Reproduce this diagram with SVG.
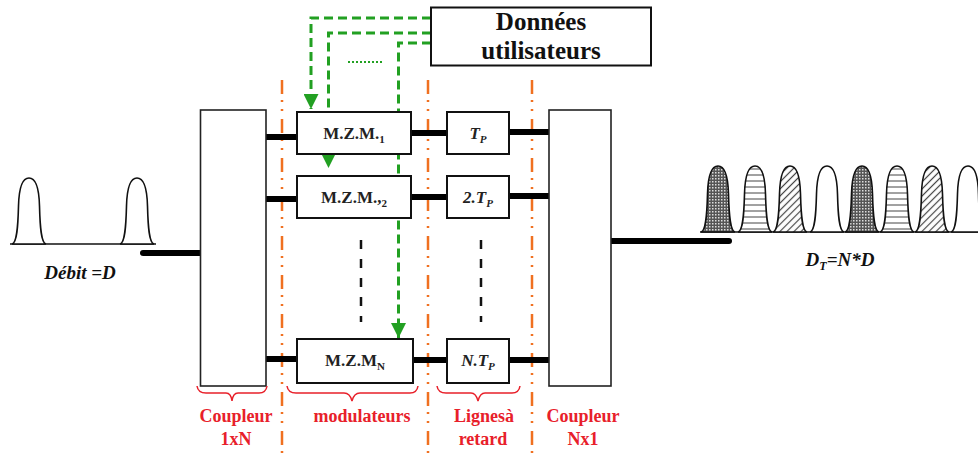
<svg xmlns="http://www.w3.org/2000/svg" width="978" height="454" viewBox="0 0 978 454">
<style>
.box{fill:#fff;stroke:#111;stroke-width:2}
.cpl{fill:#fff;stroke:#222;stroke-width:1.6}
.thick{stroke:#000;stroke-width:6;stroke-linecap:round;fill:none}
.orange{stroke:#f07020;stroke-width:2.5;stroke-dasharray:14 6 2 7 2 8;fill:none}
.green{stroke:#22a022;stroke-width:3;stroke-dasharray:9 5;fill:none}
.blk{stroke:#111;stroke-width:2.5;stroke-dasharray:9 10;fill:none}
.brace{stroke:#e8202a;stroke-width:1.5;fill:none}
.lbl{font-family:"Liberation Serif","Times New Roman",serif;font-weight:bold;font-size:17px;fill:#222;text-anchor:middle}
.it{font-style:italic}
.red{font-family:"Liberation Serif","Times New Roman",serif;font-weight:bold;font-size:18px;fill:#e8202a;text-anchor:middle}
.pulse{stroke:#111;stroke-width:1.6}
.big{font-family:"Liberation Serif","Times New Roman",serif;font-weight:bold;font-size:25px;fill:#111;text-anchor:middle}
</style>
<defs>
<marker id="ga" viewBox="0 0 10 10" refX="10" refY="5" markerWidth="5" markerHeight="5" orient="auto" markerUnits="strokeWidth">
<path d="M0,0 L10,5 L0,10 z" fill="#22a022"/>
</marker>
<pattern id="pDark" width="3" height="3" patternUnits="userSpaceOnUse">
<rect width="3" height="3" fill="#555"/>
<rect width="1.5" height="1.5" fill="#ddd"/>
</pattern>
<pattern id="pHor" width="6" height="6" patternUnits="userSpaceOnUse">
<rect width="6" height="6" fill="#fff"/>
<line x1="0" y1="3" x2="6" y2="3" stroke="#444" stroke-width="1"/>
</pattern>
<pattern id="pDiag" width="5" height="5" patternUnits="userSpaceOnUse" patternTransform="rotate(45)">
<rect width="5" height="5" fill="#fff"/>
<line x1="2.5" y1="0" x2="2.5" y2="5" stroke="#444" stroke-width="1.2"/>
</pattern>
<path id="pulse" d="M-17,0 C-12,-1 -11,-18 -10.5,-38 C-10,-58 -6,-66 0,-66 C6,-66 10,-58 10.5,-38 C11,-18 12,-1 17,0 Z"/>
</defs>
<rect width="978" height="454" fill="#fff"/>

<!-- separators -->
<g id="separators">
<line class="orange" x1="282" y1="80" x2="282" y2="454"/>
<line class="orange" x1="428" y1="80" x2="428" y2="454"/>
<line class="orange" x1="532" y1="80" x2="532" y2="454"/>
<line class="blk" x1="361" y1="240" x2="361" y2="322"/>
<line class="blk" x1="481" y1="240" x2="481" y2="322"/>
</g>

<!-- connectors -->
<g id="connectors">
<line class="thick" x1="143" y1="253" x2="200" y2="253"/>
<line class="thick" x1="266" y1="137" x2="297" y2="137"/>
<line class="thick" x1="266" y1="199" x2="297" y2="199"/>
<line class="thick" x1="264" y1="359" x2="300" y2="359"/>
<line class="thick" x1="411" y1="133" x2="447" y2="133"/>
<line class="thick" x1="411" y1="197" x2="447" y2="197"/>
<line class="thick" x1="413" y1="360" x2="447" y2="360"/>
<line class="thick" x1="509" y1="132" x2="549" y2="132"/>
<line class="thick" x1="509" y1="196" x2="549" y2="196"/>
<line class="thick" x1="509" y1="360" x2="549" y2="360"/>
<line class="thick" x1="611" y1="241" x2="729" y2="241"/>
<path class="green" d="M431,18 H311 V109" marker-end="url(#ga)"/>
<path class="green" d="M431,33 H328.5 V168" marker-end="url(#ga)"/>
<path class="green" d="M431,43 H398.5 V338" marker-end="url(#ga)"/>
<line x1="348" y1="62" x2="382" y2="62" stroke="#22a022" stroke-width="2" stroke-dasharray="2 2"/>
</g>

<!-- nodes -->
<g id="coupleur1xN"><rect class="cpl" x="200.5" y="110" width="65.5" height="276"/></g>
<g id="coupleurNx1"><rect class="cpl" x="549" y="110" width="62" height="276"/></g>

<g id="mzm1"><rect class="box" x="297" y="112" width="114" height="42"/>
<text class="lbl" x="354" y="139">M.Z.M.<tspan font-size="11" dy="4">1</tspan></text></g>
<g id="mzm2"><rect class="box" x="297" y="176" width="114" height="42"/>
<text class="lbl" x="354" y="203">M.Z.M.,<tspan font-size="11" dy="4">2</tspan></text></g>
<g id="mzmN"><rect class="box" x="297" y="339" width="116" height="44"/>
<text class="lbl" x="355" y="366">M.Z.M<tspan font-size="11" dy="4">N</tspan></text></g>

<g id="tp1"><rect class="box" x="447" y="112" width="62" height="42"/>
<text class="lbl it" x="478" y="139">T<tspan font-size="11" dy="4">P</tspan></text></g>
<g id="tp2"><rect class="box" x="447" y="176" width="62" height="42"/>
<text class="lbl it" x="478" y="203">2.T<tspan font-size="11" dy="4">P</tspan></text></g>
<g id="tpN"><rect class="box" x="447" y="339" width="62" height="44"/>
<text class="lbl it" x="478" y="366">N.T<tspan font-size="11" dy="4">P</tspan></text></g>

<g id="donnees"><rect class="box" x="431" y="7.5" width="220" height="58"/>
<text class="big" x="541" y="30">Données</text>
<text class="big" x="541" y="59">utilisateurs</text></g>

<!-- braces and labels -->
<g id="labels">
<path class="brace" d="M197,386 Q198,393 206,393 H226 Q231,393 232,401 Q233,393 238,393 H259 Q266,393 267,386"/>
<path class="brace" d="M287,386 Q288,393 296,393 H344 Q350,393 352,401 Q354,393 360,393 H410 Q417,393 418,386"/>
<path class="brace" d="M437,386 Q438,393 446,393 H471 Q476,393 478,401 Q480,393 485,393 H512 Q519,393 520,386"/>
<text class="red" x="236" y="422">Coupleur</text>
<text class="red" x="236" y="445">1xN</text>
<text class="red" x="362" y="422">modulateurs</text>
<text class="red" x="484" y="422">Lignesà</text>
<text class="red" x="483" y="445">retard</text>
<text class="red" x="583" y="422">Coupleur</text>
<text class="red" x="583" y="445">Nx1</text>
</g>

<!-- input signal -->
<g id="input">
<line x1="10" y1="244" x2="156" y2="244" stroke="#111" stroke-width="1.6"/>
<use href="#pulse" x="29" y="244" class="pulse" fill="#fff"/>
<use href="#pulse" x="137" y="244" class="pulse" fill="#fff"/>
<text x="80" y="279" font-family="Liberation Serif, serif" font-weight="bold" font-style="italic" font-size="19" fill="#111" text-anchor="middle">Débit =D</text>
</g>

<!-- output signal -->
<g id="output">
<line x1="700" y1="232" x2="978" y2="232" stroke="#111" stroke-width="1.6"/>
<use href="#pulse" x="718" y="232" class="pulse" fill="url(#pDark)"/>
<use href="#pulse" x="755" y="232" class="pulse" fill="url(#pHor)"/>
<use href="#pulse" x="790" y="232" class="pulse" fill="url(#pDiag)"/>
<use href="#pulse" x="827" y="232" class="pulse" fill="#fff"/>
<use href="#pulse" x="862" y="232" class="pulse" fill="url(#pDark)"/>
<use href="#pulse" x="897" y="232" class="pulse" fill="url(#pHor)"/>
<use href="#pulse" x="932" y="232" class="pulse" fill="url(#pDiag)"/>
<use href="#pulse" x="968" y="232" class="pulse" fill="#fff"/>
<text x="840" y="266" font-family="Liberation Serif, serif" font-weight="bold" font-style="italic" font-size="19" fill="#111" text-anchor="middle">D<tspan font-size="12" dy="4">T</tspan><tspan dy="-4">=N*D</tspan></text>
</g>
</svg>
